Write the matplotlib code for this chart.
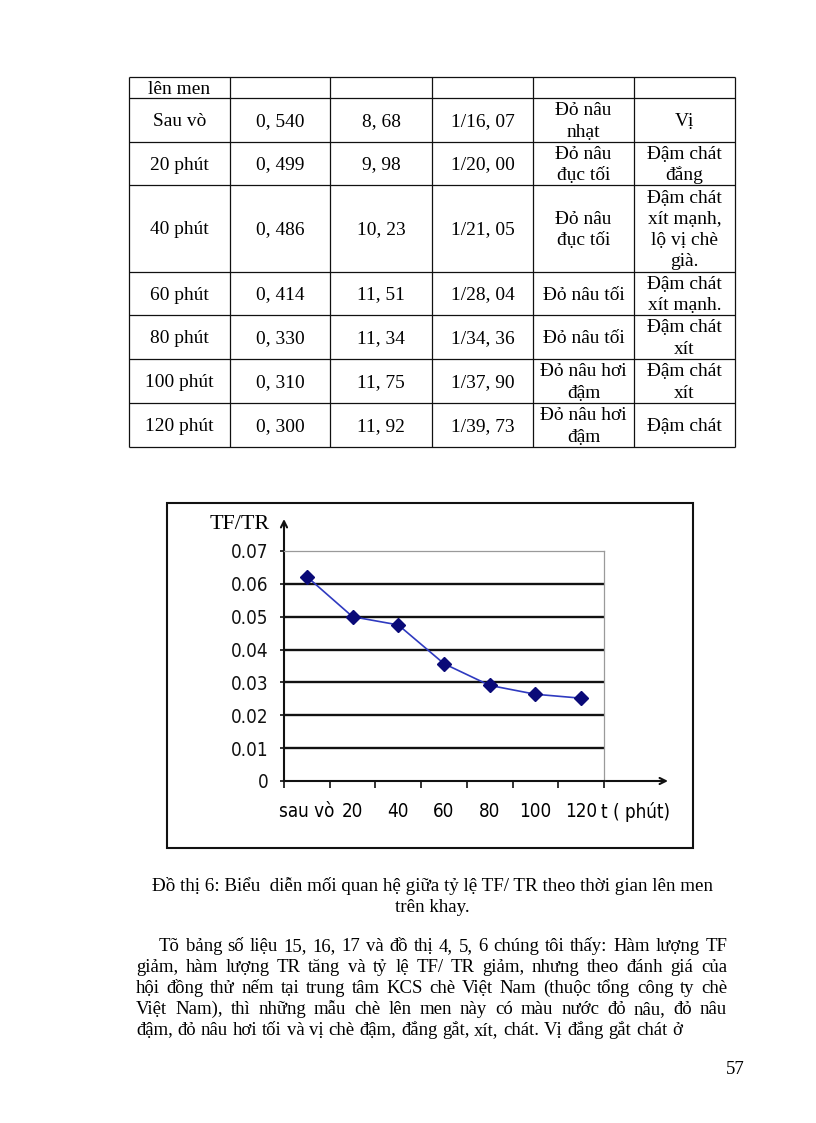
import matplotlib
matplotlib.use("Agg")
import matplotlib.pyplot as plt
from matplotlib import font_manager
from matplotlib.patches import Rectangle
import numpy as np

# ---------------- data ----------------
table_head_tail = ["lên men", "", "", "", "", ""]
row_labels = ["Sau vò", "20 phút", "40 phút", "60 phút", "80 phút", "100 phút", "120 phút"]
col_tf = ["0, 540", "0, 499", "0, 486", "0, 414", "0, 330", "0, 310", "0, 300"]
col_tr = ["8, 68", "9, 98", "10, 23", "11, 51", "11, 34", "11, 75", "11, 92"]
col_ratio = ["1/16, 07", "1/20, 00", "1/21, 05", "1/28, 04", "1/34, 36", "1/37, 90", "1/39, 73"]
col_color = ["Đỏ nâu\nnhạt", "Đỏ nâu\nđục tối", "Đỏ nâu\nđục tối", "Đỏ nâu tối",
             "Đỏ nâu tối", "Đỏ nâu hơi\nđậm", "Đỏ nâu hơi\nđậm"]
col_taste = ["Vị", "Đậm chát\nđắng", "Đậm chát\nxít mạnh,\nlộ vị chè\ngià.", "Đậm chát\nxít mạnh.",
             "Đậm chát\nxít", "Đậm chát\nxít", "Đậm chát"]

categories = ["sau vò", "20", "40", "60", "80", "100", "120"]
tf_tr = [0.0622, 0.0500, 0.0475, 0.0357, 0.0291, 0.0264, 0.0252]
y_ticks = [0, 0.01, 0.02, 0.03, 0.04, 0.05, 0.06, 0.07]
y_tick_labels = ["0", "0.01", "0.02", "0.03", "0.04", "0.05", "0.06", "0.07"]
y_title = "TF/TR"
x_title = "t ( phút)"

caption_lines = ["Đồ thị 6: Biểu  diễn mối quan hệ giữa tỷ lệ TF/ TR theo thời gian lên men",
                 "trên khay."]
para_lines = [
    "Tõ bảng số liệu 15, 16, 17 và đồ thị 4, 5, 6 chúng tôi thấy: Hàm lượng TF",
    "giảm, hàm lượng TR tăng và tỷ lệ TF/ TR giảm, nhưng theo đánh giá của",
    "hội đồng thử nếm tại trung tâm KCS chè Việt Nam (thuộc tổng công ty chè",
    "Việt Nam), thì những mẫu chè lên men này có màu nước đỏ nâu, đỏ nâu",
    "đậm, đỏ nâu hơi tối và vị chè đậm, đắng gắt, xít, chát. Vị đắng gắt chát ở",
]
page_number = "57"

# ---------------- page setup ----------------
W, H = 816, 1123
fig = plt.figure(figsize=(W / 100, H / 100), dpi=100)
fig.patch.set_facecolor("white")
page = fig.add_axes([0, 0, 1, 1])
page.set_xlim(0, W)
page.set_ylim(H, 0)
page.axis("off")
renderer = fig.canvas.get_renderer()

names = {f.name for f in font_manager.fontManager.ttflist}
SERIF = ["Liberation Serif", "DejaVu Serif"]
if "Liberation Sans Narrow" in names:
    NARROW = ["Liberation Sans Narrow", "DejaVu Sans"]
    NSTRETCH = "normal"
else:
    NARROW = ["DejaVu Sans"]
    NSTRETCH = "condensed"


def text_width(s, size, family, **kw):
    t = page.text(0, 0, s, fontsize=size, family=family, **kw)
    w = t.get_window_extent(renderer).width
    t.remove()
    return w


def fit_size(pairs, family, **kw):
    sizes = [12 * target / text_width(s, 12, family, **kw) for s, target in pairs]
    return sum(sizes) / len(sizes)


# ---------------- table ----------------
col_x = [129, 230, 330, 432, 533, 634, 735]
row_y = [77, 98, 142, 185, 272, 315, 359, 403, 447]
tsize = fit_size([("Sau vò", 55), ("Đậm chát", 74), ("Đỏ nâu hơi", 84)], SERIF)
line_gap = 21.3

for x in col_x:
    page.plot([x, x], [row_y[0], row_y[-1]], color="#111111", lw=0.9, solid_capstyle="butt")
for y in row_y:
    page.plot([col_x[0], col_x[-1]], [y, y], color="#111111", lw=0.9, solid_capstyle="butt")


def cell_text(txt, cx, cy):
    lines = txt.split("\n")
    n = len(lines)
    for i, ln in enumerate(lines):
        yc = cy + (i - (n - 1) / 2) * line_gap
        page.text(cx, yc + 6, ln, fontsize=tsize, family=SERIF, ha="center", va="baseline")


rows = [table_head_tail] + [list(r) for r in zip(row_labels, col_tf, col_tr, col_ratio, col_color, col_taste)]
for r, cells in enumerate(rows):
    cy = (row_y[r] + row_y[r + 1]) / 2
    for c, txt in enumerate(cells):
        if txt:
            cell_text(txt, (col_x[c] + col_x[c + 1]) / 2, cy)

# ---------------- chart ----------------
page.add_patch(Rectangle((167, 503), 693 - 167, 848 - 503, fill=False, ec="#111111", lw=1.5))

ax_l, ax_r, ax_t, ax_b = 284, 604, 551, 781
ax = fig.add_axes([ax_l / W, 1 - ax_b / H, (ax_r - ax_l) / W, (ax_b - ax_t) / H])
ax.set_facecolor("none")
xs = np.arange(len(categories)) + 0.5
ax.set_xlim(0, len(categories))
ax.set_ylim(y_ticks[0], y_ticks[-1])
for yv in y_ticks[1:-1]:
    ax.axhline(yv, color="#111111", lw=1.7, zorder=1)
ax.plot(xs, tf_tr, color="#2F3AC0", lw=1.2, zorder=4)
ax.plot(xs, tf_tr, ls="none", marker="D", ms=7, mfc="#0A0A78", mec="#0A0A78", zorder=5, clip_on=False)

for s in ("top", "right"):
    ax.spines[s].set_color("#9A9A9A")
    ax.spines[s].set_linewidth(0.9)
for s in ("left", "bottom"):
    ax.spines[s].set_color("#111111")
    ax.spines[s].set_linewidth(1.5)

tick_size = fit_size([("0.07", 38), ("0.01", 37)], NARROW, fontstretch=NSTRETCH)
ax.set_yticks(y_ticks)
ax.set_yticklabels(y_tick_labels, family=NARROW, fontstretch=NSTRETCH, fontsize=tick_size)
ax.tick_params(axis="y", direction="out", length=3, width=1.2, pad=8.0, colors="#111111")
ax.set_xticks(np.arange(len(categories) + 1))
ax.set_xticklabels([])
ax.tick_params(axis="x", which="major", direction="out", length=5, width=1.2, colors="#111111")
ax.set_xticks(xs, minor=True)
ax.set_xticklabels(categories, minor=True, family=NARROW, fontstretch=NSTRETCH, fontsize=tick_size)
ax.tick_params(axis="x", which="minor", length=0, pad=15.0)

arrow = dict(arrowstyle="->", lw=1.5, color="#111111", shrinkA=0, shrinkB=0, mutation_scale=11)
page.annotate("", xy=(ax_l, 519), xytext=(ax_l, ax_t), arrowprops=arrow)
page.annotate("", xy=(668, ax_b), xytext=(ax_r, ax_b), arrowprops=arrow)

ysize = fit_size([(y_title, 60)], SERIF)
page.text(270, 529, y_title, fontsize=ysize, family=SERIF, ha="right", va="baseline")
page.text(601, 818, x_title, fontsize=tick_size, family=NARROW, fontstretch=NSTRETCH,
          ha="left", va="baseline")

# ---------------- caption & paragraph ----------------
csize = fit_size([(caption_lines[0], 561)], SERIF)
cap_base = [891, 912]
for ln, yb in zip(caption_lines, cap_base):
    page.text(432, yb, ln, fontsize=csize, family=SERIF, ha="center", va="baseline")

psize = fit_size([(para_lines[-1], 546)], SERIF)
space_w = text_width("a b", psize, SERIF) - text_width("ab", psize, SERIF)
left, right, indent = 136, 727, 159
para_base = [951, 972, 993, 1014, 1035]
for i, (ln, yb) in enumerate(zip(para_lines, para_base)):
    words = ln.split()
    widths = [text_width(w, psize, SERIF) for w in words]
    x0 = indent if i == 0 else left
    last = i == len(para_lines) - 1
    gap = space_w if last else (right - x0 - sum(widths)) / (len(words) - 1)
    x = x0
    for w, wd in zip(words, widths):
        page.text(x, yb, w, fontsize=psize, family=SERIF, ha="left", va="baseline")
        x += wd + gap

page.text(745, 1074, page_number, fontsize=psize, family=SERIF, ha="right", va="baseline")

fig.savefig("out.png", dpi=100, facecolor="white")
